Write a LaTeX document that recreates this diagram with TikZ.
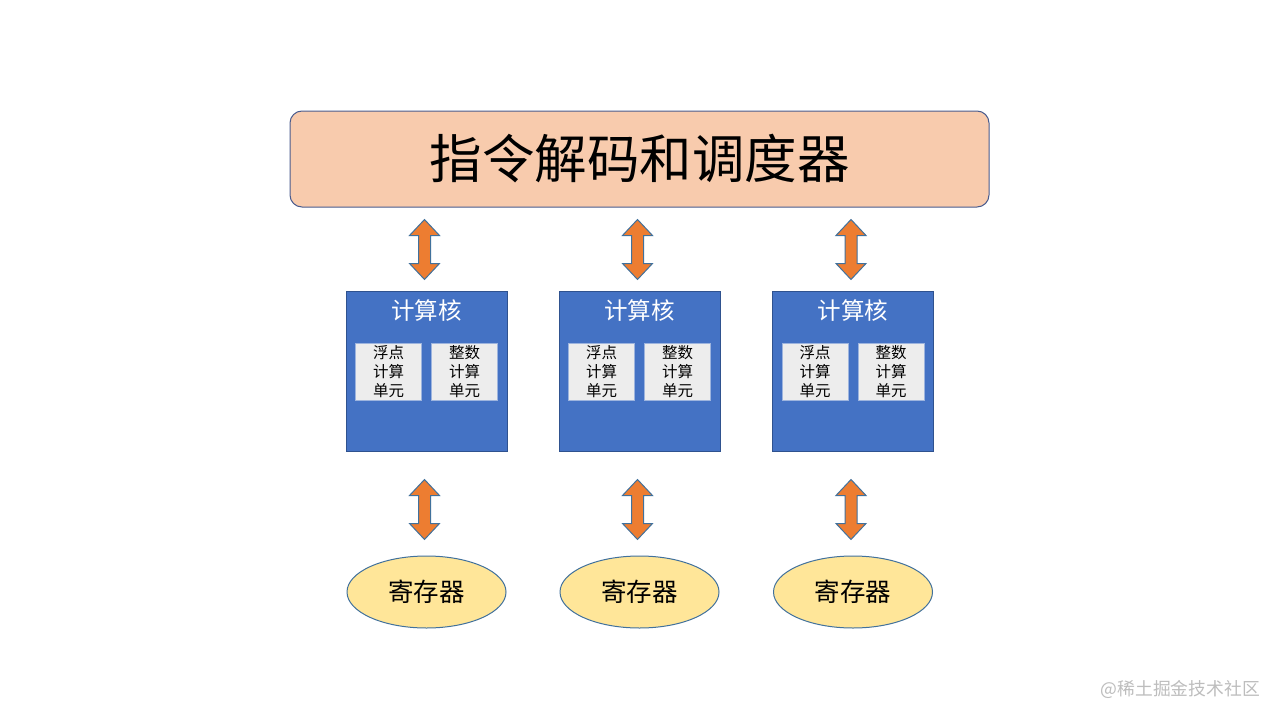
\documentclass[tikz,border=0pt]{standalone}
\usepackage{fontspec}
\newfontfamily\cjk{Noto Sans CJK SC}
\usetikzlibrary{calc,shapes.geometric}
\definecolor{topfill}{HTML}{F8CBAD}
\definecolor{topdraw}{HTML}{4A5C8E}
\definecolor{corefill}{HTML}{4472C4}
\definecolor{coredraw}{HTML}{2F528F}
\definecolor{unitfill}{HTML}{EDEDED}
\definecolor{unitdraw}{HTML}{9DB4DE}
\definecolor{regfill}{HTML}{FFE699}
\definecolor{regdraw}{HTML}{41719C}
\definecolor{arrfill}{HTML}{ED7D31}
\definecolor{arrdraw}{HTML}{41719C}
\definecolor{wmgray}{HTML}{BDBDBD}
\tikzset{
  topbox/.style={draw=topdraw,fill=topfill,line width=1pt,rounded corners=12pt,minimum width=699pt,minimum height=96pt,inner sep=0pt,font=\cjk\fontsize{52.5}{58}\selectfont},
  corebox/.style={draw=coredraw,fill=corefill,line width=1pt,minimum width=161pt,minimum height=160pt,inner sep=0pt},
  coretitle/.style={text=white,inner sep=0pt,font=\cjk\fontsize{23.5}{26}\selectfont},
  unitbox/.style={draw=unitdraw,fill=unitfill,line width=1pt,minimum width=66pt,minimum height=57pt,inner sep=0pt,align=center,font=\cjk\fontsize{15.5}{19}\selectfont},
  regbox/.style={ellipse,draw=regdraw,fill=regfill,line width=1pt,minimum width=159pt,minimum height=72pt,inner sep=0pt,font=\cjk\fontsize{25.5}{28}\selectfont},
  fatarr/.style={draw=arrdraw,fill=arrfill,line width=1pt,line join=miter},
}
\newcommand\fatarrow[2]{%
  \path let \p1=(#1), \p2=(#2) in
    [fatarr] (\x1,\y1) -- (\x1+15pt,\y1-16pt) -- (\x1+6pt,\y1-16pt) -- (\x1+6pt,\y2+16pt)
    -- (\x1+15pt,\y2+16pt) -- (\x1,\y2) -- (\x1-15pt,\y2+16pt) -- (\x1-6pt,\y2+16pt)
    -- (\x1-6pt,\y1-16pt) -- (\x1-15pt,\y1-16pt) -- cycle;}
\begin{document}
\begin{tikzpicture}[x=1pt,y=-1pt]
\useasboundingbox (0,0) rectangle (1280,720);
\fill[white] (0,0) rectangle (1280,720);
\node[topbox] (top) at (639.5,159) {\raisebox{-2pt}{指令解码和调度器}};
\foreach \i/\cx in {1/426.5,2/639.5,3/853} {
  \node[corebox] (core\i) at (\cx,371) {};
  \node[coretitle] (title\i) at (\cx,311) {计算核};
  \node[unitbox] (fpu\i) at (\cx-38,371.5) {浮点\\计算\\单元};
  \node[unitbox] (ipu\i) at (\cx+38,371.5) {整数\\计算\\单元};
  \node[regbox] (reg\i) at (\cx,592) {寄存器};
  \coordinate (a\i t) at ($(top.south -| core\i.north)+(-2,12)$);
  \coordinate (a\i b) at ($(core\i.north)+(-2,-11)$);
  \coordinate (b\i t) at ($(core\i.south)+(-2,28)$);
  \coordinate (b\i b) at ($(reg\i.north)+(-2,-16)$);
  \fatarrow{a\i t}{a\i b}
  \fatarrow{b\i t}{b\i b}
}
\node[text=wmgray,anchor=east,inner sep=0pt,font=\cjk\fontsize{17.8}{20}\selectfont] (wm) at (1260,689) {@稀土掘金技术社区};
\end{tikzpicture}
\end{document}
